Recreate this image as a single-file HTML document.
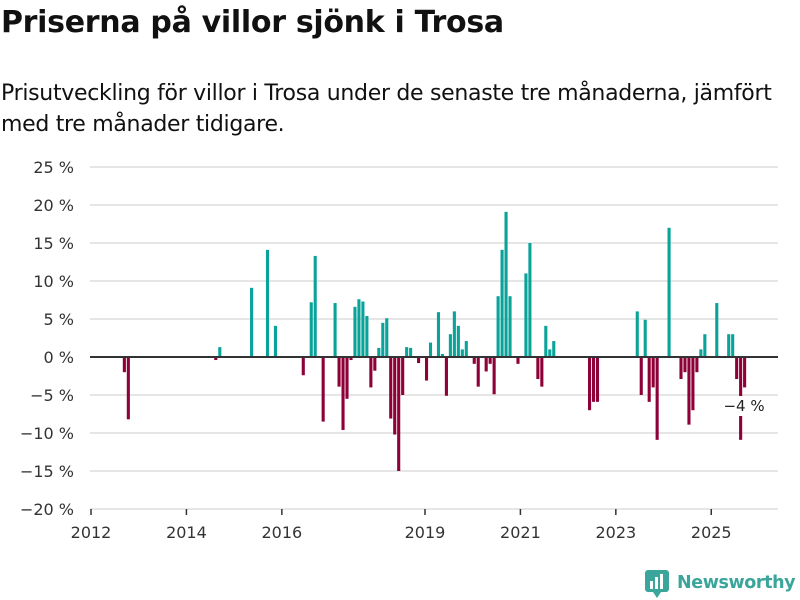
<!DOCTYPE html>
<html><head><meta charset="utf-8"><style>
body{margin:0;background:#fff;width:800px;height:600px;overflow:hidden;font-family:"Liberation Sans","DejaVu Sans",sans-serif;color:#111}
#title{position:absolute;left:1px;top:5px;font-size:30px;font-weight:bold;margin:0;font-family:"DejaVu Sans","Liberation Sans",sans-serif;letter-spacing:-0.3px}
#sub{position:absolute;left:1px;top:78px;font-size:22px;line-height:31px;margin:0;width:795px;font-family:"DejaVu Sans","Liberation Sans",sans-serif;letter-spacing:-0.3px}
svg{position:absolute;left:0;top:0}
</style></head><body>
<h1 id="title">Priserna på villor sjönk i Trosa</h1>
<p id="sub">Prisutveckling för villor i Trosa under de senaste tre månaderna, jämfört med tre månader tidigare.</p>
<svg id="chart" width="800" height="600"></svg>
<script>
const yTicks = [25,20,15,10,5,0,-5,-10,-15,-20];
const xTickYears = [2012,2014,2016,2019,2021,2023,2025];
// month index since Jan 2012
const months = [8,9,31,32,40,44,46,53,55,56,58,61,62,63,64,65,66,67,68,69,70,71,72,73,74,75,76,77,78,79,80,82,84,85,87,88,89,90,91,92,93,94,96,97,99,100,101,102,103,104,105,107,109,110,112,113,114,115,116,125,126,127,137,138,139,140,141,142,145,148,149,150,151,152,153,154,157,160,161,162,163,164];
const values = [-2,-8.2,-0.4,1.3,9.1,14.1,4.1,-2.4,7.2,13.3,-8.5,7.1,-3.9,-9.6,-5.5,-0.4,6.6,7.6,7.3,5.4,-4,-1.8,1.2,4.5,5.1,-8.1,-10.2,-15,-5,1.3,1.2,-0.8,-3.1,1.9,5.9,0.4,-5.1,3,6,4.1,1,2.1,-0.9,-3.9,-1.9,-0.9,-4.9,8,14.1,19.1,8,-0.9,11,15,-2.9,-3.9,4.1,1,2.1,-7,-5.9,-5.9,6,-5,4.9,-5.9,-4,-10.9,17,-2.9,-2,-8.9,-7,-2,1,3,7.1,3,3,-2.9,-10.9,-4];
const lastLabel = "−4 %";

const svg = document.getElementById('chart');
const NS = 'http://www.w3.org/2000/svg';
const X0 = 91, STEP = 3.976, Y0 = 357, PPU = 7.6;
const xScale = m => X0 + m*STEP;
const yScale = v => Y0 - v*PPU;
function mk(tag, attrs){const e=document.createElementNS(NS,tag);for(const k in attrs)e.setAttribute(k,attrs[k]);svg.appendChild(e);return e;}

yTicks.forEach(t=>{
  const g = mk('line',{x1:90,x2:778,y1:yScale(t),y2:yScale(t),stroke:'#dddddd','stroke-width':1.5});
  
  
  const l = mk('text',{x:74,y:yScale(t)+6,'text-anchor':'end','font-size':16,fill:'#333','font-family':'DejaVu Sans, Liberation Sans, sans-serif'});
  l.textContent = (t<0?'−'+(-t):t)+' %';
  
  
});
xTickYears.forEach(yr=>{
  const x = xScale((yr-2012)*12);
  const tk = mk('line',{x1:x,x2:x,y1:509,y2:515,stroke:'#333','stroke-width':1.5});
  
  
  const l = mk('text',{x:x,y:538,'text-anchor':'middle','font-size':16,fill:'#333','font-family':'DejaVu Sans, Liberation Sans, sans-serif'});
  l.textContent = yr;
  
  
});
months.forEach((m,i)=>{
  const v = values[i];
  const y1 = yScale(Math.max(v,0)), y2 = yScale(Math.min(v,0));
  const r = mk('rect',{x:xScale(m),y:y1,width:STEP*0.78,height:y2-y1,fill:v>=0?'#0aa39a':'#8e0038'});
  
  
});
const zl = mk('line',{x1:90,x2:778,y1:Y0,y2:Y0,stroke:'#333','stroke-width':2});


const lm = months[months.length-1];
const lx = xScale(lm)+1;
const lb = mk('rect',{x:lx-18,y:396,width:38,height:20,fill:'#fff'});


const lt = mk('text',{x:lx,y:411,'text-anchor':'middle','font-size':15,fill:'#222','font-family':'DejaVu Sans, Liberation Sans, sans-serif'});
lt.textContent = lastLabel;


</script>
<div style="position:absolute;left:645px;top:567px;height:32px;display:flex;align-items:center">
<svg width="24" height="30" style="position:static"><rect x="0" y="2" width="24" height="22" rx="3" fill="#3aa59a"/><polygon points="8,24 16,24 12,30" fill="#3aa59a"/><rect x="5" y="13" width="3" height="8" fill="#fff"/><rect x="10" y="9" width="3" height="12" fill="#fff"/><rect x="15" y="6" width="3" height="15" fill="#fff"/></svg>
<span style="margin-left:8px;font-size:17.5px;font-weight:bold;color:#3aa59a;font-family:'DejaVu Sans','Liberation Sans',sans-serif;letter-spacing:-0.4px">Newsworthy</span>
</div>
</body></html>
